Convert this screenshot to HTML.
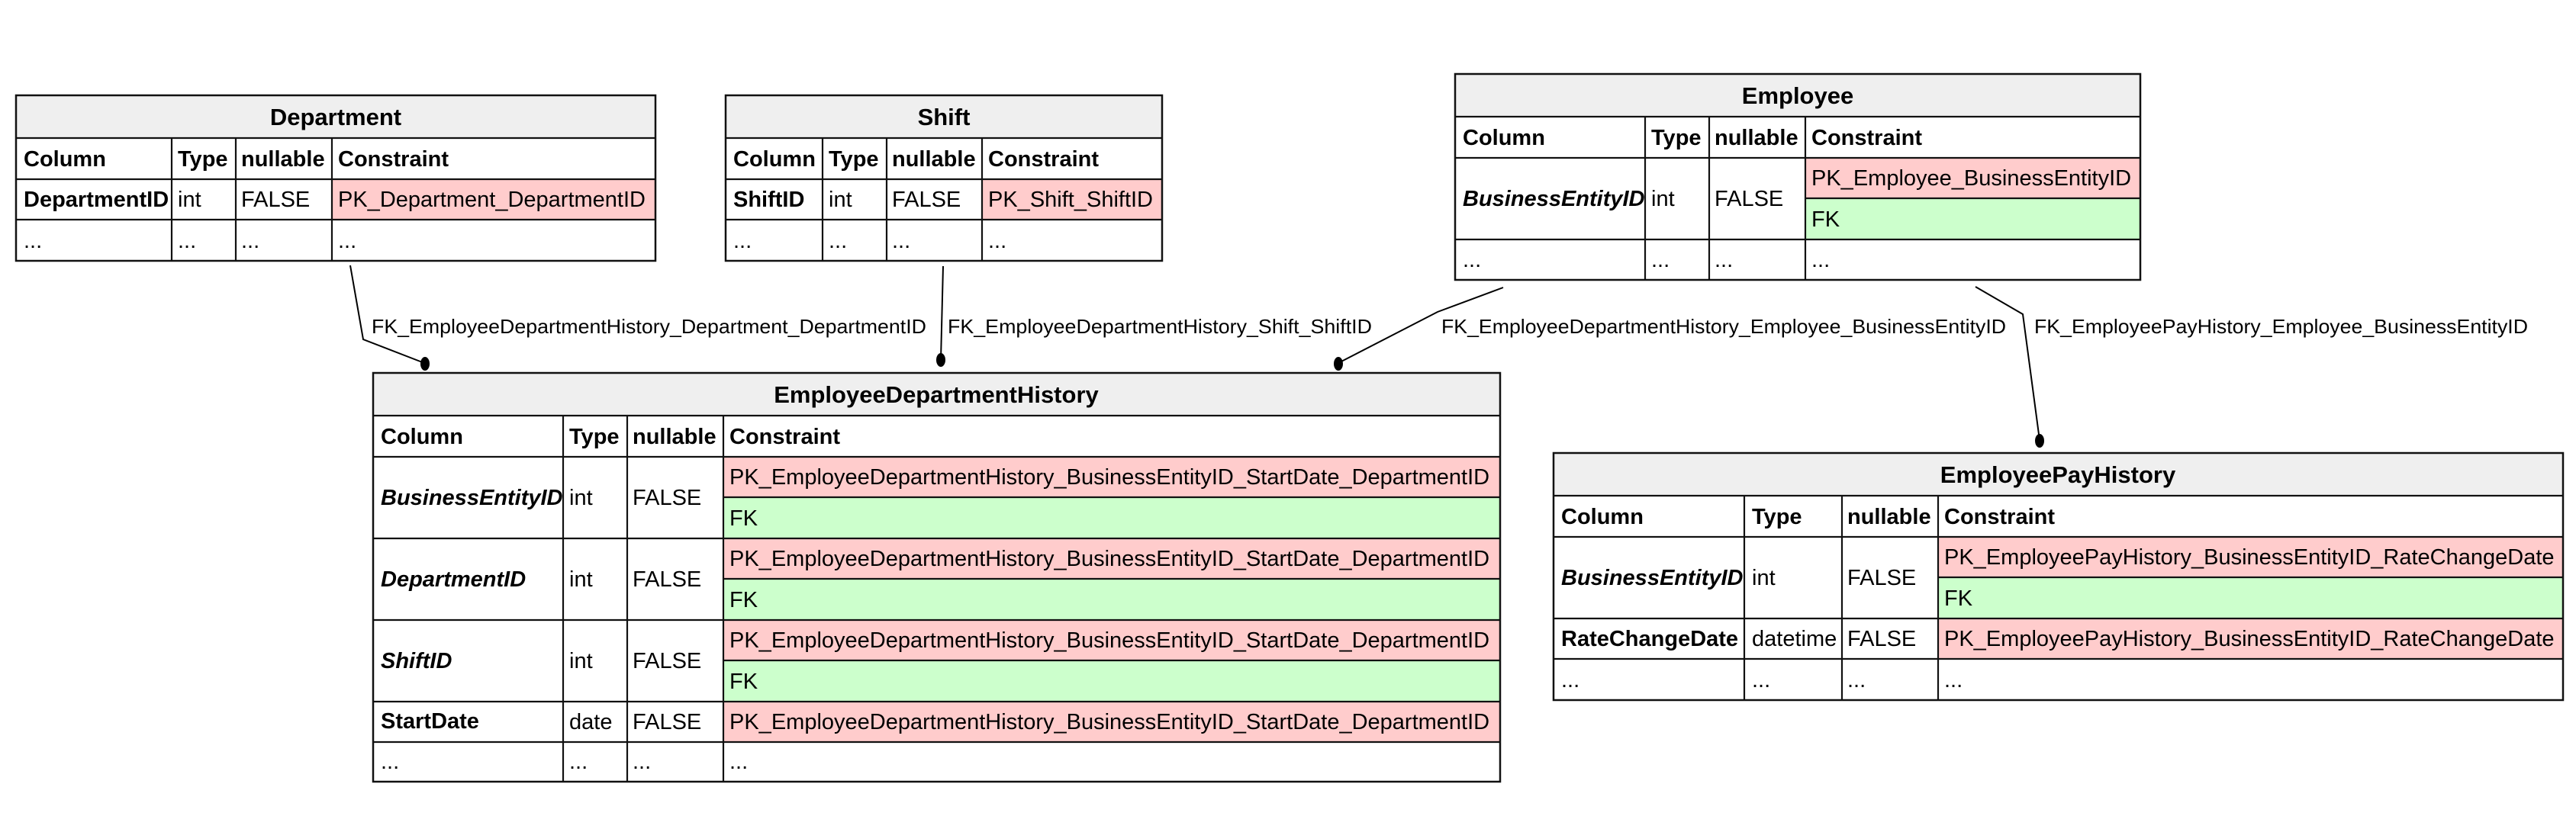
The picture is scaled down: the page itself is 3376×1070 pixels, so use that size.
<!DOCTYPE html>
<html><head><meta charset="utf-8"><style>
html,body{margin:0;padding:0;background:#fff;width:3376px;height:1070px;overflow:hidden}
text{font-family:"Liberation Sans",Arial,sans-serif;font-size:29px;fill:#000}
.b{font-weight:bold}.i{font-weight:bold;font-style:italic}.h{font-weight:bold;font-size:31px}
.l{font-size:26px}
.g line{stroke:#111;stroke-width:2.2}
.o{fill:none;stroke:#111;stroke-width:2.5}
</style></head><body>
<svg width="3376" height="1070" xmlns="http://www.w3.org/2000/svg">
<rect width="3376" height="1070" fill="#fff"/>

<!-- Department -->
<rect x="21" y="125" width="838" height="56" fill="#efefef"/>
<rect x="435" y="235" width="424" height="53" fill="#ffcccc"/>
<g class="g">
<line x1="21" y1="181" x2="859" y2="181"/><line x1="21" y1="235" x2="859" y2="235"/><line x1="21" y1="288" x2="859" y2="288"/>
<line x1="225" y1="181" x2="225" y2="342"/><line x1="309" y1="181" x2="309" y2="342"/><line x1="435" y1="181" x2="435" y2="342"/>
</g>
<rect class="o" x="21" y="125" width="838" height="217"/>
<text class="h" x="440" y="164" text-anchor="middle">Department</text>
<text class="b" x="31" y="218">Column</text><text class="b" x="233" y="218">Type</text><text class="b" x="316" y="218">nullable</text><text class="b" x="443" y="218">Constraint</text>
<text class="b" x="31" y="271">DepartmentID</text><text x="233" y="271">int</text><text x="316" y="271">FALSE</text><text x="443" y="271">PK_Department_DepartmentID</text>
<text x="31" y="325">...</text><text x="233" y="325">...</text><text x="316" y="325">...</text><text x="443" y="325">...</text>

<!-- Shift -->
<rect x="951" y="125" width="572" height="56" fill="#efefef"/>
<rect x="1287" y="235" width="236" height="53" fill="#ffcccc"/>
<g class="g">
<line x1="951" y1="181" x2="1523" y2="181"/><line x1="951" y1="235" x2="1523" y2="235"/><line x1="951" y1="288" x2="1523" y2="288"/>
<line x1="1078" y1="181" x2="1078" y2="342"/><line x1="1162" y1="181" x2="1162" y2="342"/><line x1="1287" y1="181" x2="1287" y2="342"/>
</g>
<rect class="o" x="951" y="125" width="572" height="217"/>
<text class="h" x="1237" y="164" text-anchor="middle">Shift</text>
<text class="b" x="961" y="218">Column</text><text class="b" x="1086" y="218">Type</text><text class="b" x="1169" y="218">nullable</text><text class="b" x="1295" y="218">Constraint</text>
<text class="b" x="961" y="271">ShiftID</text><text x="1086" y="271">int</text><text x="1169" y="271">FALSE</text><text x="1295" y="271">PK_Shift_ShiftID</text>
<text x="961" y="325">...</text><text x="1086" y="325">...</text><text x="1169" y="325">...</text><text x="1295" y="325">...</text>

<!-- Employee -->
<rect x="1907" y="97" width="898" height="56" fill="#efefef"/>
<rect x="2366" y="207" width="439" height="53" fill="#ffcccc"/>
<rect x="2366" y="260" width="439" height="54" fill="#ccffcc"/>
<g class="g">
<line x1="1907" y1="153" x2="2805" y2="153"/><line x1="1907" y1="207" x2="2805" y2="207"/><line x1="2366" y1="260" x2="2805" y2="260"/><line x1="1907" y1="314" x2="2805" y2="314"/>
<line x1="2156" y1="153" x2="2156" y2="367"/><line x1="2240" y1="153" x2="2240" y2="367"/><line x1="2366" y1="153" x2="2366" y2="367"/>
</g>
<rect class="o" x="1907" y="97" width="898" height="270"/>
<text class="h" x="2356" y="136" text-anchor="middle">Employee</text>
<text class="b" x="1917" y="190">Column</text><text class="b" x="2164" y="190">Type</text><text class="b" x="2247" y="190">nullable</text><text class="b" x="2374" y="190">Constraint</text>
<text class="i" x="1917" y="270">BusinessEntityID</text><text x="2164" y="270">int</text><text x="2247" y="270">FALSE</text>
<text x="2374" y="243">PK_Employee_BusinessEntityID</text><text x="2374" y="297">FK</text>
<text x="1917" y="350">...</text><text x="2164" y="350">...</text><text x="2247" y="350">...</text><text x="2374" y="350">...</text>

<!-- EmployeeDepartmentHistory -->
<rect x="489" y="489" width="1477" height="56" fill="#efefef"/>
<rect x="948" y="599" width="1018" height="53" fill="#ffcccc"/>
<rect x="948" y="652" width="1018" height="54" fill="#ccffcc"/>
<rect x="948" y="706" width="1018" height="53" fill="#ffcccc"/>
<rect x="948" y="759" width="1018" height="54" fill="#ccffcc"/>
<rect x="948" y="813" width="1018" height="53" fill="#ffcccc"/>
<rect x="948" y="866" width="1018" height="54" fill="#ccffcc"/>
<rect x="948" y="920" width="1018" height="53" fill="#ffcccc"/>
<g class="g">
<line x1="489" y1="545" x2="1966" y2="545"/><line x1="489" y1="599" x2="1966" y2="599"/>
<line x1="948" y1="652" x2="1966" y2="652"/><line x1="489" y1="706" x2="1966" y2="706"/>
<line x1="948" y1="759" x2="1966" y2="759"/><line x1="489" y1="813" x2="1966" y2="813"/>
<line x1="948" y1="866" x2="1966" y2="866"/><line x1="489" y1="920" x2="1966" y2="920"/>
<line x1="489" y1="973" x2="1966" y2="973"/>
<line x1="738" y1="545" x2="738" y2="1025"/><line x1="822" y1="545" x2="822" y2="1025"/><line x1="948" y1="545" x2="948" y2="1025"/>
</g>
<rect class="o" x="489" y="489" width="1477" height="536"/>
<text class="h" x="1227" y="528" text-anchor="middle">EmployeeDepartmentHistory</text>
<text class="b" x="499" y="582">Column</text><text class="b" x="746" y="582">Type</text><text class="b" x="829" y="582">nullable</text><text class="b" x="956" y="582">Constraint</text>
<text class="i" x="499" y="662">BusinessEntityID</text><text x="746" y="662">int</text><text x="829" y="662">FALSE</text>
<text x="956" y="635">PK_EmployeeDepartmentHistory_BusinessEntityID_StartDate_DepartmentID</text><text x="956" y="689">FK</text>
<text class="i" x="499" y="769">DepartmentID</text><text x="746" y="769">int</text><text x="829" y="769">FALSE</text>
<text x="956" y="742">PK_EmployeeDepartmentHistory_BusinessEntityID_StartDate_DepartmentID</text><text x="956" y="796">FK</text>
<text class="i" x="499" y="876">ShiftID</text><text x="746" y="876">int</text><text x="829" y="876">FALSE</text>
<text x="956" y="849">PK_EmployeeDepartmentHistory_BusinessEntityID_StartDate_DepartmentID</text><text x="956" y="903">FK</text>
<text class="b" x="499" y="955">StartDate</text><text x="746" y="956">date</text><text x="829" y="956">FALSE</text><text x="956" y="956">PK_EmployeeDepartmentHistory_BusinessEntityID_StartDate_DepartmentID</text>
<text x="499" y="1008">...</text><text x="746" y="1008">...</text><text x="829" y="1008">...</text><text x="956" y="1008">...</text>

<!-- EmployeePayHistory -->
<rect x="2036" y="594" width="1323" height="56" fill="#efefef"/>
<rect x="2540" y="704" width="819" height="53" fill="#ffcccc"/>
<rect x="2540" y="757" width="819" height="54" fill="#ccffcc"/>
<rect x="2540" y="811" width="819" height="53" fill="#ffcccc"/>
<g class="g">
<line x1="2036" y1="650" x2="3359" y2="650"/><line x1="2036" y1="704" x2="3359" y2="704"/>
<line x1="2540" y1="757" x2="3359" y2="757"/><line x1="2036" y1="811" x2="3359" y2="811"/>
<line x1="2036" y1="864" x2="3359" y2="864"/>
<line x1="2286" y1="650" x2="2286" y2="918"/><line x1="2414" y1="650" x2="2414" y2="918"/><line x1="2540" y1="650" x2="2540" y2="918"/>
</g>
<rect class="o" x="2036" y="594" width="1323" height="324"/>
<text class="h" x="2697" y="633" text-anchor="middle">EmployeePayHistory</text>
<text class="b" x="2046" y="687">Column</text><text class="b" x="2296" y="687">Type</text><text class="b" x="2421" y="687">nullable</text><text class="b" x="2548" y="687">Constraint</text>
<text class="i" x="2046" y="767">BusinessEntityID</text><text x="2296" y="767">int</text><text x="2421" y="767">FALSE</text>
<text x="2548" y="740">PK_EmployeePayHistory_BusinessEntityID_RateChangeDate</text><text x="2548" y="794">FK</text>
<text class="b" x="2046" y="847">RateChangeDate</text><text x="2296" y="847">datetime</text><text x="2421" y="847">FALSE</text><text x="2548" y="847">PK_EmployeePayHistory_BusinessEntityID_RateChangeDate</text>
<text x="2046" y="901">...</text><text x="2296" y="901">...</text><text x="2421" y="901">...</text><text x="2548" y="901">...</text>

<!-- connectors -->
<g fill="none" stroke="#000" stroke-width="2">
<polyline points="459,348 476,445 556,476"/>
<polyline points="1236,349 1233,472"/>
<polyline points="1970,377 1884,409 1754,476"/>
<polyline points="2589,376 2651,412 2673,577"/>
</g>
<g fill="#000">
<ellipse cx="557" cy="477" rx="6" ry="9"/>
<ellipse cx="1233" cy="472" rx="6" ry="9"/>
<ellipse cx="1754" cy="477" rx="6" ry="9"/>
<ellipse cx="2673" cy="578" rx="6" ry="9"/>
</g>
<text class="l" x="487" y="437" textLength="727" lengthAdjust="spacingAndGlyphs">FK_EmployeeDepartmentHistory_Department_DepartmentID</text>
<text class="l" x="1242" y="437" textLength="556" lengthAdjust="spacingAndGlyphs">FK_EmployeeDepartmentHistory_Shift_ShiftID</text>
<text class="l" x="1889" y="437" textLength="740" lengthAdjust="spacingAndGlyphs">FK_EmployeeDepartmentHistory_Employee_BusinessEntityID</text>
<text class="l" x="2666" y="437" textLength="647" lengthAdjust="spacingAndGlyphs">FK_EmployeePayHistory_Employee_BusinessEntityID</text>
</svg>
</body></html>
